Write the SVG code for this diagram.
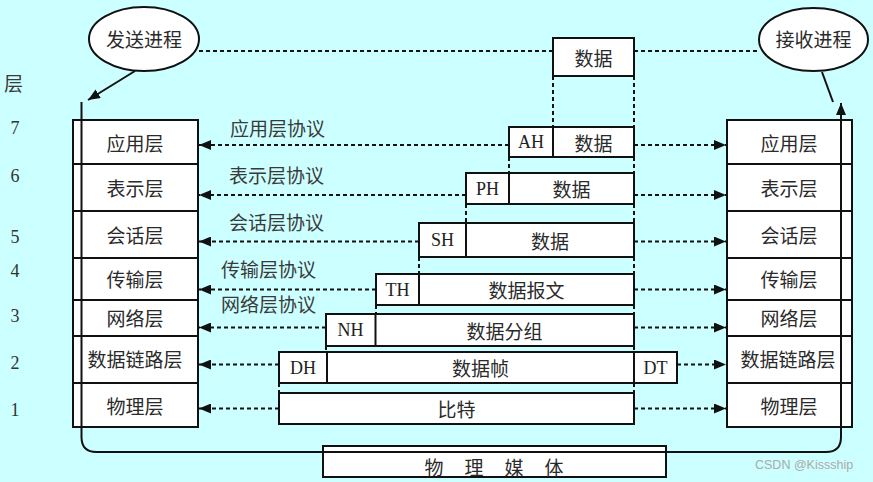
<svg xmlns="http://www.w3.org/2000/svg" width="873" height="482" viewBox="0 0 873 482">
<defs>
<style>
.bg{fill:#CCFFFF}
.box{fill:#fff;stroke:#111;stroke-width:2}
.ln{fill:none;stroke:#111;stroke-width:2}
.dash{fill:none;stroke:#111;stroke-width:2;stroke-dasharray:4 3}
.cn{font-family:"Noto Sans CJK SC","Noto Sans",sans-serif;font-size:19px;fill:#2a2a2a;text-anchor:middle;dominant-baseline:central}
.pl{font-family:"Noto Sans CJK SC","Noto Sans",sans-serif;font-size:19px;fill:#3a3a3a;dominant-baseline:central}
.lt{font-family:"Liberation Serif",serif;font-size:18px;fill:#222;text-anchor:middle;dominant-baseline:central}
.num{font-family:"Liberation Serif",serif;font-size:18px;fill:#333;text-anchor:middle;dominant-baseline:central}
.wm{font-family:"Liberation Sans",Arial,sans-serif;font-size:12.5px;fill:#aaa;dominant-baseline:central}
</style>
<marker id="ah" viewBox="0 0 12 10" refX="12" refY="5" markerWidth="12" markerHeight="10" markerUnits="userSpaceOnUse" orient="auto">
<path d="M0,0 L12,5 L0,10 Z" fill="#111"/>
</marker>
</defs>
<rect class="bg" x="0" y="0" width="873" height="482"/>

<!-- layer numbers -->
<g id="layer-numbers">
<text class="pl" x="4" y="82">层</text>
<text class="num" x="15" y="128">7</text>
<text class="num" x="15" y="176">6</text>
<text class="num" x="15" y="237">5</text>
<text class="num" x="15" y="271">4</text>
<text class="num" x="15" y="316">3</text>
<text class="num" x="15" y="363">2</text>
<text class="num" x="15" y="410">1</text>
</g>

<!-- processes -->
<g id="send-process">
<ellipse cx="144" cy="39" rx="55" ry="32" fill="#fff" stroke="#111" stroke-width="2"/>
<text class="cn" x="144" y="38">发送进程</text>
</g>
<g id="recv-process">
<ellipse cx="813.5" cy="39.5" rx="54.5" ry="31.5" fill="#fff" stroke="#111" stroke-width="2"/>
<text class="cn" x="813.5" y="38">接收进程</text>
</g>

<!-- left stack -->
<g id="left-stack">
<rect class="box" x="73" y="120" width="125" height="307"/>
<line class="ln" x1="73" y1="164" x2="198" y2="164"/>
<line class="ln" x1="73" y1="211" x2="198" y2="211"/>
<line class="ln" x1="73" y1="258" x2="198" y2="258"/>
<line class="ln" x1="73" y1="300" x2="198" y2="300"/>
<line class="ln" x1="73" y1="336" x2="198" y2="336"/>
<line class="ln" x1="73" y1="383" x2="198" y2="383"/>
<text class="cn" x="135" y="142">应用层</text>
<text class="cn" x="135" y="187">表示层</text>
<text class="cn" x="135" y="234">会话层</text>
<text class="cn" x="135" y="278">传输层</text>
<text class="cn" x="135" y="317">网络层</text>
<text class="cn" x="135" y="358">数据链路层</text>
<text class="cn" x="135" y="405">物理层</text>
</g>

<!-- right stack -->
<g id="right-stack">
<rect class="box" x="727" y="120" width="125" height="307"/>
<line class="ln" x1="727" y1="164" x2="852" y2="164"/>
<line class="ln" x1="727" y1="211" x2="852" y2="211"/>
<line class="ln" x1="727" y1="258" x2="852" y2="258"/>
<line class="ln" x1="727" y1="300" x2="852" y2="300"/>
<line class="ln" x1="727" y1="336" x2="852" y2="336"/>
<line class="ln" x1="727" y1="383" x2="852" y2="383"/>
<text class="cn" x="789" y="142">应用层</text>
<text class="cn" x="789" y="187">表示层</text>
<text class="cn" x="789" y="234">会话层</text>
<text class="cn" x="789" y="278">传输层</text>
<text class="cn" x="789" y="317">网络层</text>
<text class="cn" x="788" y="358">数据链路层</text>
<text class="cn" x="789" y="405">物理层</text>
</g>

<!-- data units -->
<g id="data-top">
<rect class="box" x="553" y="38" width="81" height="38"/>
<text class="cn" x="593.5" y="57">数据</text>
</g>
<g id="pdu-7">
<rect class="box" x="509" y="127" width="125" height="30"/>
<line class="ln" x1="553" y1="127" x2="553" y2="157"/>
<text class="lt" x="531" y="142">AH</text>
<text class="cn" x="593.5" y="142">数据</text>
</g>
<g id="pdu-6">
<rect class="box" x="466" y="173" width="168" height="31"/>
<line class="ln" x1="509" y1="173" x2="509" y2="204"/>
<text class="lt" x="487.5" y="188.5">PH</text>
<text class="cn" x="571.5" y="188.5">数据</text>
</g>
<g id="pdu-5">
<rect class="box" x="419" y="223" width="215" height="34"/>
<line class="ln" x1="466" y1="223" x2="466" y2="257"/>
<text class="lt" x="442.5" y="240">SH</text>
<text class="cn" x="550" y="240">数据</text>
</g>
<g id="pdu-4">
<rect class="box" x="376" y="274" width="258" height="31"/>
<line class="ln" x1="419" y1="274" x2="419" y2="305"/>
<text class="lt" x="397.5" y="289.5">TH</text>
<text class="cn" x="526.5" y="289.5">数据报文</text>
</g>
<g id="pdu-3">
<rect class="box" x="326" y="314" width="308" height="32"/>
<line class="ln" x1="375.5" y1="314" x2="375.5" y2="346"/>
<text class="lt" x="350.5" y="330">NH</text>
<text class="cn" x="504.5" y="330">数据分组</text>
</g>
<g id="pdu-2">
<rect class="box" x="279" y="352" width="398" height="31"/>
<line class="ln" x1="327" y1="352" x2="327" y2="383"/>
<line class="ln" x1="634" y1="352" x2="634" y2="383"/>
<text class="lt" x="303" y="367.5">DH</text>
<text class="cn" x="480.5" y="367.5">数据帧</text>
<text class="lt" x="655.5" y="367.5">DT</text>
</g>
<g id="pdu-1">
<rect class="box" x="279" y="393" width="355" height="31"/>
<text class="cn" x="456.5" y="408.5">比特</text>
</g>
<g id="medium">
<rect class="box" x="323" y="446" width="343" height="31"/>
<text class="cn" x="434" y="466">物</text>
<text class="cn" x="474" y="466">理</text>
<text class="cn" x="514" y="466">媒</text>
<text class="cn" x="554" y="466">体</text>
</g>

<!-- connectors -->
<g id="connectors">
<line class="dash" x1="199" y1="51" x2="553" y2="51"/>
<line class="dash" x1="634" y1="51" x2="760" y2="51"/>
<line class="dash" x1="553" y1="76" x2="553" y2="127"/>
<line class="dash" x1="634" y1="76" x2="634" y2="127"/>
<line class="dash" x1="509" y1="157" x2="509" y2="173"/>
<line class="dash" x1="634" y1="157" x2="634" y2="173"/>
<line class="dash" x1="466" y1="204" x2="466" y2="223"/>
<line class="dash" x1="634" y1="204" x2="634" y2="223"/>
<line class="dash" x1="419" y1="257" x2="419" y2="274"/>
<line class="dash" x1="634" y1="257" x2="634" y2="274"/>
<line class="dash" x1="376" y1="305" x2="376" y2="314"/>
<line class="dash" x1="634" y1="305" x2="634" y2="314"/>
<line class="dash" x1="326" y1="346" x2="326" y2="352"/>
<line class="dash" x1="634" y1="346" x2="634" y2="352"/>
<line class="dash" x1="279" y1="383" x2="279" y2="393"/>
<line class="dash" x1="634" y1="383" x2="634" y2="393"/>
<line class="dash" x1="509" y1="145" x2="199" y2="145" marker-end="url(#ah)"/>
<line class="dash" x1="466" y1="195" x2="199" y2="195" marker-end="url(#ah)"/>
<line class="dash" x1="419" y1="241.5" x2="199" y2="241.5" marker-end="url(#ah)"/>
<line class="dash" x1="376" y1="289.5" x2="199" y2="289.5" marker-end="url(#ah)"/>
<line class="dash" x1="326" y1="327.5" x2="199" y2="327.5" marker-end="url(#ah)"/>
<line class="dash" x1="279" y1="364.5" x2="199" y2="364.5" marker-end="url(#ah)"/>
<line class="dash" x1="279" y1="408.5" x2="199" y2="408.5" marker-end="url(#ah)"/>
<line class="dash" x1="634" y1="145" x2="726" y2="145" marker-end="url(#ah)"/>
<line class="dash" x1="634" y1="195" x2="726" y2="195" marker-end="url(#ah)"/>
<line class="dash" x1="634" y1="241.5" x2="726" y2="241.5" marker-end="url(#ah)"/>
<line class="dash" x1="634" y1="289.5" x2="726" y2="289.5" marker-end="url(#ah)"/>
<line class="dash" x1="634" y1="327.5" x2="726" y2="327.5" marker-end="url(#ah)"/>
<line class="dash" x1="677" y1="364.5" x2="726" y2="364.5" marker-end="url(#ah)"/>
<line class="dash" x1="634" y1="408.5" x2="726" y2="408.5" marker-end="url(#ah)"/>
<line class="ln" x1="135" y1="71" x2="88" y2="100" marker-end="url(#ah)"/>
<line class="ln" x1="822" y1="72" x2="833" y2="102"/>
<path class="ln" d="M81.5,102 L81.5,437 Q81.5,452 96.5,452 L826,452 Q841,452 841,437 L841,103" marker-end="url(#ah)"/>
</g>

<!-- protocol labels -->
<g id="protocol-labels">
<text class="pl" x="230" y="127">应用层协议</text>
<text class="pl" x="229" y="174">表示层协议</text>
<text class="pl" x="229" y="221">会话层协议</text>
<text class="pl" x="221" y="268">传输层协议</text>
<text class="pl" x="221" y="303">网络层协议</text>
</g>

<text class="wm" x="755" y="465">CSDN @Kissship</text>
</svg>
